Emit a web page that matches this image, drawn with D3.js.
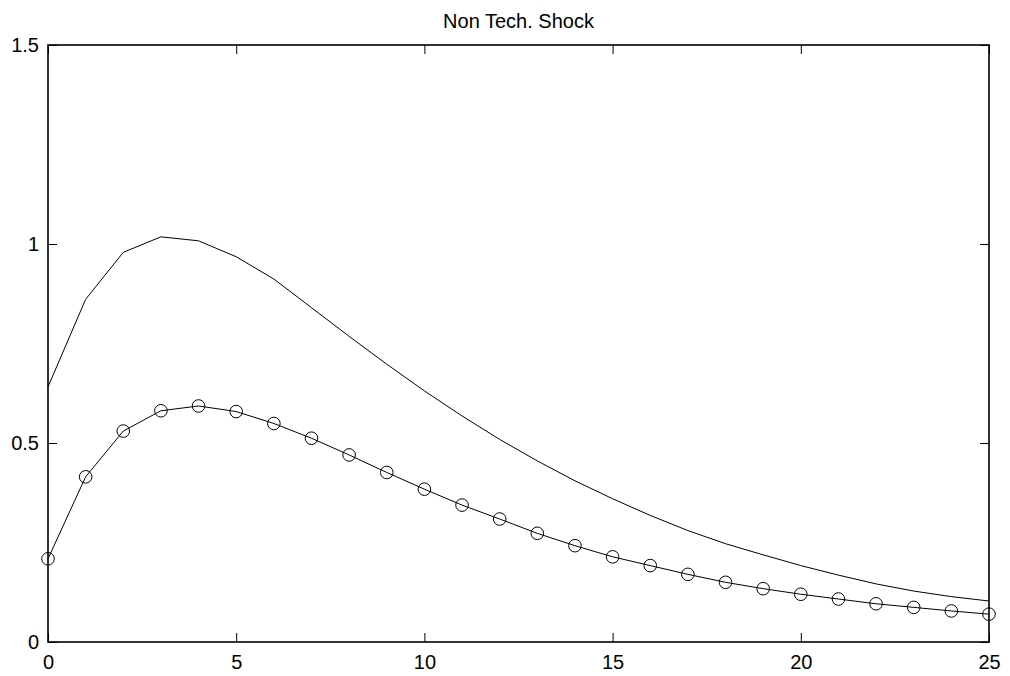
<!DOCTYPE html>
<html>
<head>
<meta charset="utf-8">
<script src="https://cdn.jsdelivr.net/npm/d3@7"></script>
<style>
  body { margin: 0; background: #fff; }
  svg text { font-family: "Liberation Sans", Arial, sans-serif; font-size: 20px; fill: #000; }
</style>
</head>
<body>
<svg id="chart" width="1010" height="676"></svg>
<script>
// Data
const periods = d3.range(0, 26);
const upper = [0.641, 0.861, 0.979, 1.018, 1.008, 0.968, 0.912, 0.840, 0.768, 0.698,
    0.631, 0.568, 0.509, 0.455, 0.405, 0.360, 0.318, 0.280, 0.247, 0.219,
    0.192, 0.168, 0.146, 0.128, 0.114, 0.103];
const lower = [0.209, 0.415, 0.530, 0.581, 0.593, 0.579, 0.549, 0.512, 0.470, 0.426,
    0.384, 0.344, 0.309, 0.273, 0.242, 0.214, 0.192, 0.170, 0.150, 0.134,
    0.120, 0.108, 0.096, 0.087, 0.078, 0.070];
const xTicks = [0, 5, 10, 15, 20, 25];
const yTicks = [0, 0.5, 1, 1.5];
const title = "Non Tech. Shock";

/**************************************************************************************************/
/* Layout */
const plotLeft = 48, plotRight = 989, plotTop = 45, plotBottom = 642;
const tickLen = 9;

const svg = d3.select("#chart");
const x = d3.scaleLinear().domain([0, 25]).range([plotLeft, plotRight]);
const y = d3.scaleLinear().domain([0, 1.5]).range([plotBottom, plotTop]);

// axes with inward ticks, mirrored on top and right
const fmt = d => d3.format("~g")(d);
svg.append("g")
    .attr("transform", `translate(0,${plotBottom})`)
    .call(d3.axisBottom(x).tickValues(xTicks).tickFormat(fmt).tickSizeInner(-tickLen).tickSizeOuter(0).tickPadding(13));
svg.append("g")
    .attr("transform", `translate(0,${plotTop})`)
    .call(d3.axisTop(x).tickValues(xTicks).tickFormat("").tickSizeInner(-tickLen).tickSizeOuter(0));
svg.append("g")
    .attr("transform", `translate(${plotLeft},0)`)
    .call(d3.axisLeft(y).tickValues(yTicks).tickFormat(fmt).tickSizeInner(-tickLen).tickSizeOuter(0).tickPadding(9));
svg.append("g")
    .attr("transform", `translate(${plotRight},0)`)
    .call(d3.axisRight(y).tickValues(yTicks).tickFormat("").tickSizeInner(-tickLen).tickSizeOuter(0));

svg.selectAll(".domain").remove();
svg.selectAll(".tick line").attr("stroke", "#000").attr("stroke-width", 1);
svg.selectAll(".tick text").style("font-size", "20px").attr("fill", "#000");

// box
svg.append("rect")
    .attr("x", plotLeft).attr("y", plotTop)
    .attr("width", plotRight - plotLeft).attr("height", plotBottom - plotTop)
    .attr("fill", "none").attr("stroke", "#000").attr("stroke-width", 1.6);

/* Series */
const line = d3.line().x((d, i) => x(periods[i])).y(d => y(d));

svg.append("path")
    .attr("d", line(upper))
    .attr("fill", "none").attr("stroke", "#000").attr("stroke-width", 1);

svg.append("path")
    .attr("d", line(lower))
    .attr("fill", "none").attr("stroke", "#000").attr("stroke-width", 1);

svg.append("g").selectAll("circle")
    .data(lower)
    .join("circle")
        .attr("cx", (d, i) => x(periods[i]))
        .attr("cy", d => y(d))
        .attr("r", 6.3)
        .attr("fill", "none")
        .attr("stroke", "#000")
        .attr("stroke-width", 1);

// title
svg.append("text")
    .attr("x", (plotLeft + plotRight) / 2)
    .attr("y", 28)
    .attr("text-anchor", "middle")
    .text(title);
</script>
</body>
</html>
